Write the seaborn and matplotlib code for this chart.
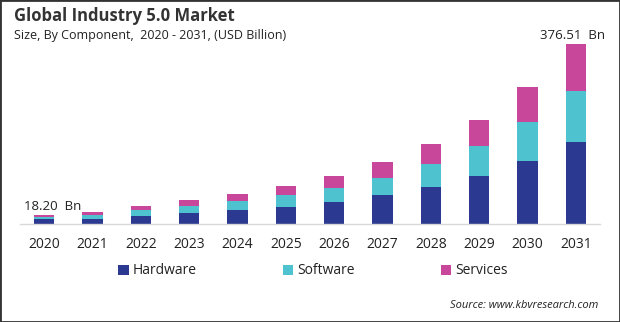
import matplotlib
matplotlib.use("Agg")
import matplotlib.pyplot as plt
import seaborn as sns
import pandas as pd
import numpy as np
from matplotlib.patches import Rectangle, Patch

years = ["2020", "2021", "2022", "2023", "2024", "2025", "2026", "2027", "2028", "2029", "2030", "2031"]
hardware = [9.5, 10.5, 16.7, 23.0, 29.3, 35.6, 46.0, 60.7, 77.4, 100.4, 131.8, 171.5]
software = [4.2, 9.0, 12.6, 14.7, 18.8, 25.1, 29.3, 35.5, 48.1, 62.8, 81.6, 106.7]
services = [4.5, 5.5, 8.4, 12.5, 14.7, 18.8, 25.1, 33.5, 41.9, 54.4, 73.6, 98.31]
series_names = ["Hardware", "Software", "Services"]
colors = ["#2B3990", "#4EC3CF", "#C9479A"]
first_label = "18.20  Bn"
last_label = "376.51  Bn"

sns.set_style("white")
plt.rcParams["font.family"] = ["Open Sans", "DejaVu Sans"]

df = pd.DataFrame({"year": years, "Hardware": hardware, "Software": software, "Services": services})

fig = plt.figure(figsize=(6.2, 3.22), dpi=100)
ax = fig.add_axes([20 / 620, 1 - 224 / 322, 580 / 620, 191.2 / 322])

bottom = np.zeros(len(years))
for name, c in zip(series_names, colors):
    sns.barplot(data=df, x="year", y=name, color=c, width=0.42, bottom=bottom,
                ax=ax, saturation=1, linewidth=0)
    bottom = bottom + df[name].values

ax.set_ylim(0, 400)
ax.set_xlim(-0.5, len(years) - 0.5)
ax.set_xlabel("")
ax.set_ylabel("")
ax.set_yticks([])
for s in ["left", "right", "top"]:
    ax.spines[s].set_visible(False)
ax.spines["bottom"].set_color("#D9D9D9")
ax.spines["bottom"].set_linewidth(1.0)
ax.tick_params(axis="x", length=0, pad=9, labelsize=10, labelcolor="#222222")

totals = bottom
ax.text(0 - 0.42, totals[0] + 5, first_label, ha="left", va="bottom", fontsize=9.5, color="#222222")
ax.text(len(years) - 1 + 0.6, totals[-1] + 4, last_label, ha="right", va="bottom", fontsize=9.5, color="#222222")

fig.text(14 / 620, 1 - 16 / 322, "Global Industry 5.0 Market", fontsize=12, fontweight="bold",
         color="#333333", ha="left", va="center")
fig.text(14 / 620, 1 - 35 / 322, "Size, By Component,  2020 - 2031, (USD Billion)", fontsize=9,
         color="#222222", ha="left", va="center")

handles = [Patch(facecolor=c, edgecolor="none") for c in colors]
fig.legend(handles, series_names, loc="center", bbox_to_anchor=(0.505, 1 - 271 / 322), ncol=3,
           frameon=False, fontsize=10, handlelength=0.75, handleheight=0.75, handletextpad=0.3,
           columnspacing=6.2, labelcolor="#222222")

fig.text(598 / 620, 1 - 306 / 322, "Source: www.kbvresearch.com", fontsize=8, style="italic",
         color="#222222", ha="right", va="center")

fig.patches.append(Rectangle((0, 0), 1, 1, transform=fig.transFigure, fill=False,
                             edgecolor="#333333", linewidth=2))

fig.savefig("out.png", dpi=100)
